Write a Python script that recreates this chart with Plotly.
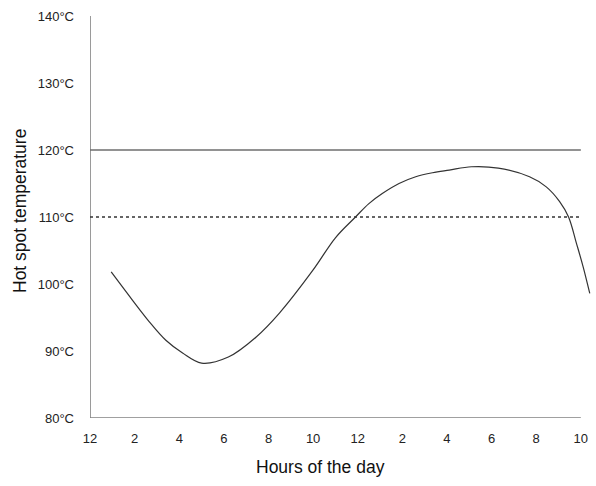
import plotly.graph_objects as go

# Hot spot temperature over a day (hours since midnight)
hours = [0.95, 1.9, 2.65, 3.4, 4.15, 5.0, 6.2, 7.45, 8.5, 10.0, 11.0, 11.9,
         12.5, 13.1, 13.85, 14.6, 15.35, 16.1, 17.1, 18.3, 19.7, 20.45, 21.05,
         21.45, 21.8, 22.1, 22.4]
temps = [101.8, 97.6, 94.4, 91.6, 89.7, 88.2, 89.1, 92.1, 95.7, 102.1, 106.9,
         110.0, 112.0, 113.5, 115.0, 116.0, 116.6, 117.0, 117.5, 117.3, 116.0,
         114.5, 112.3, 110.0, 106.1, 102.6, 98.6]

tick_hours = [0, 2, 4, 6, 8, 10, 12, 14, 16, 18, 20, 22]
tick_text = ["12", "2", "4", "6", "8", "10", "12", "2", "4", "6", "8", "10"]
temp_ticks = [80, 90, 100, 110, 120, 130, 140]
temp_text = [f"{t}°C" for t in temp_ticks]

limit_solid = 120
limit_dotted = 110
x_end = 22

fig = go.Figure()
fig.add_trace(go.Scatter(
    x=hours, y=temps, mode="lines",
    line=dict(color="#333333", width=1.2, shape="spline", smoothing=1.0),
    hoverinfo="skip", showlegend=False,
))

shapes = [
    # axes
    dict(type="line", xref="x", yref="y", x0=0, x1=0, y0=80, y1=140,
         line=dict(color="#808080", width=1.6)),
    dict(type="line", xref="x", yref="y", x0=0, x1=x_end, y0=80, y1=80,
         line=dict(color="#808080", width=1.6)),
    # reference levels
    dict(type="line", xref="x", yref="y", x0=0, x1=x_end, y0=limit_solid, y1=limit_solid,
         line=dict(color="#6e6e6e", width=1.4)),
    dict(type="line", xref="x", yref="y", x0=0, x1=x_end, y0=limit_dotted, y1=limit_dotted,
         line=dict(color="#333333", width=1.4, dash="dot")),
]

fig.update_layout(
    width=596, height=486,
    margin=dict(l=90, r=4, t=16, b=68),
    paper_bgcolor="white", plot_bgcolor="white",
    font=dict(family="Liberation Sans, Arial, sans-serif", size=13, color="#222222"),
    shapes=shapes,
    xaxis=dict(range=[0, 22.5], tickvals=tick_hours, ticktext=tick_text,
               showgrid=False, zeroline=False, showline=False,
               ticks="", ticklabelstandoff=11, fixedrange=True),
    yaxis=dict(range=[80, 140], tickvals=temp_ticks, ticktext=temp_text,
               showgrid=False, zeroline=False, showline=False,
               ticks="", ticklabelstandoff=15, fixedrange=True),
    annotations=[
        dict(text="Hours of the day", xref="paper", yref="paper",
             x=(320 - 90) / 502, y=-(467 - 418) / 402, showarrow=False,
             xanchor="center", yanchor="middle",
             font=dict(size=17.5, color="#111111")),
        dict(text="Hot spot temperature", xref="paper", yref="paper",
             x=-(90 - 20) / 502, y=(418 - 211) / 402, showarrow=False, textangle=-90,
             xanchor="center", yanchor="middle",
             font=dict(size=17.5, color="#111111")),
    ],
)

fig.write_html("out.html")
